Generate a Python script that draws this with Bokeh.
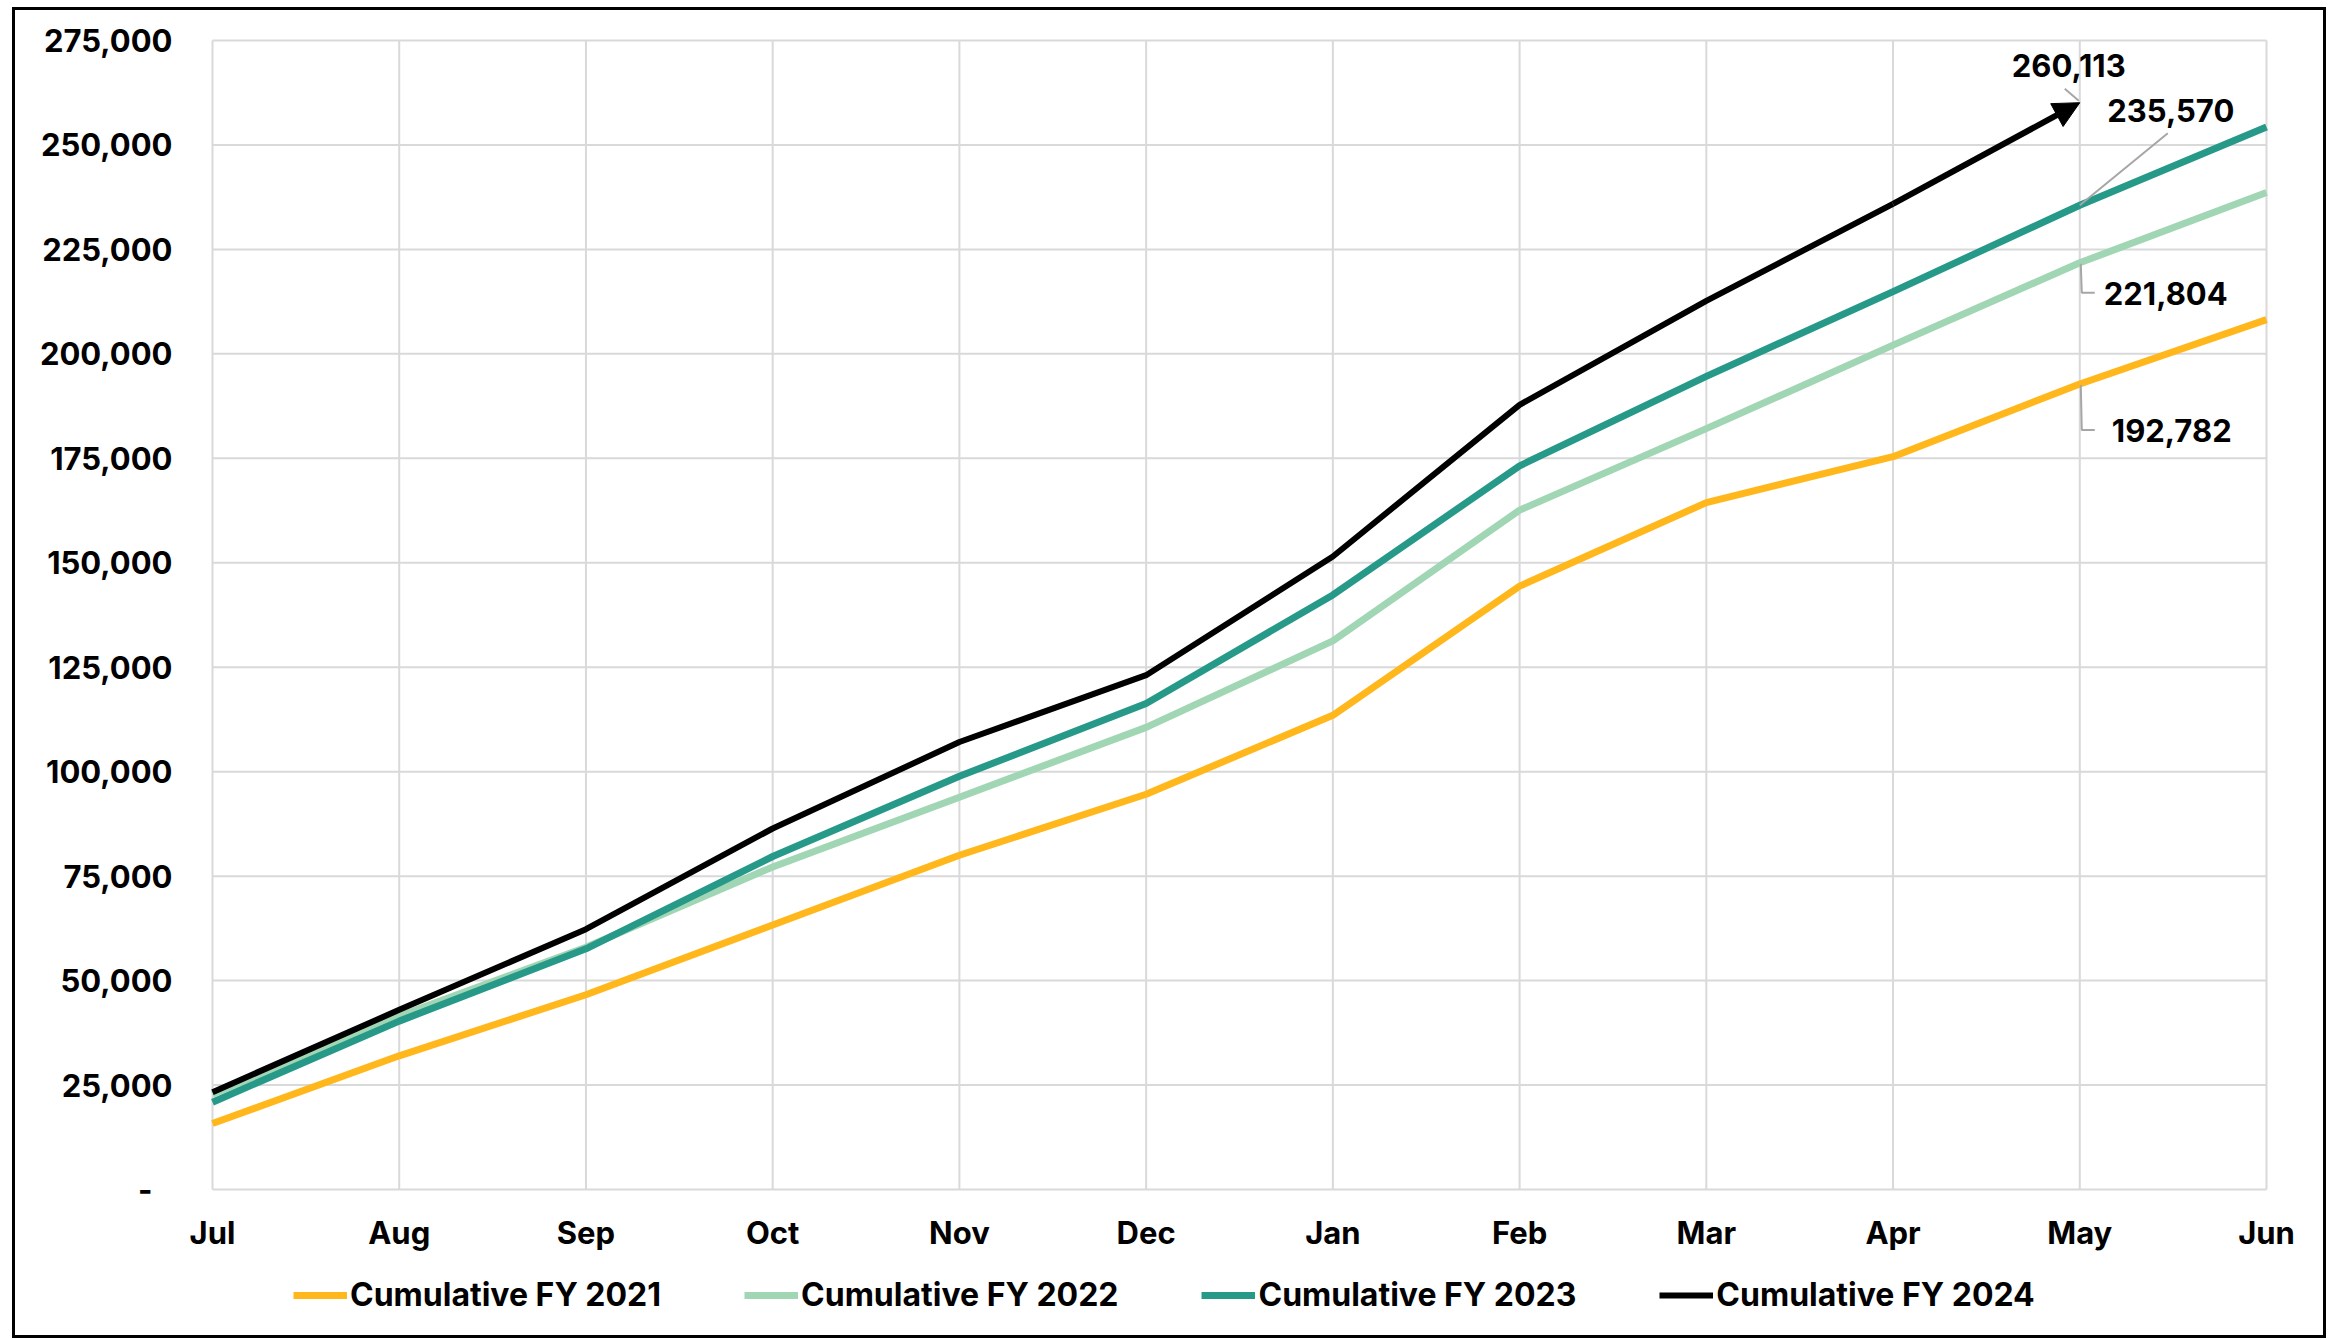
from bokeh.plotting import figure
from bokeh.models import Legend, LegendItem, Arrow, NormalHead, Range1d
from bokeh.core.properties import value
from bokeh.embed import file_html
from bokeh.resources import INLINE

months = ["Jul", "Aug", "Sep", "Oct", "Nov", "Dec", "Jan", "Feb", "Mar", "Apr", "May", "Jun"]
fy2021 = [15800, 32000, 46600, 63300, 80000, 94600, 113500, 144400, 164400, 175400, 192782, 208200]
fy2022 = [22800, 41500, 58000, 77200, 93900, 110600, 131300, 162600, 182100, 202100, 221804, 238600]
fy2023 = [20900, 40300, 57600, 79700, 98900, 116300, 142300, 173200, 194600, 214900, 235570, 254300]
fy2024 = [23300, 43000, 62300, 86400, 107100, 123100, 151500, 187800, 212700, 235900, 260113]
series_names = ["Cumulative FY 2021", "Cumulative FY 2022", "Cumulative FY 2023", "Cumulative FY 2024"]
y_ticks = list(range(0, 275001, 25000))
y_tick_labels = ["-\u2007" if t == 0 else f"{t:,}" for t in y_ticks]

COLORS = ["#FFB71B", "#A0D6B4", "#279989", "#000000"]
GRID = "#D9D9D9"
FONT = "Inter"
FS = "31px"

# geometry (pixels): canvas size and where the value area sits inside it
W, H = 2314, 1331
PAD_L, PAD_R, PAD_T, PAD_B = 197, 63, 30, 152
PLOT_W = W - PAD_L - PAD_R
PLOT_H = H - PAD_T - PAD_B
YMAX = 275000
XMAX = len(months) - 1
UX = XMAX / PLOT_W          # data units per pixel (x)
UY = YMAX / PLOT_H          # data units per pixel (y)

p = figure(width=W, height=H, output_backend="svg", toolbar_location=None,
           x_range=Range1d(-PAD_L * UX, XMAX + PAD_R * UX),
           y_range=Range1d(-PAD_B * UY, YMAX + PAD_T * UY),
           min_border=0, background_fill_color="white", border_fill_color="white")
p.styles = {"border": "3px solid #000000", "margin-left": "12px", "margin-top": "7px"}
p.outline_line_color = None
p.xaxis.visible = False
p.yaxis.visible = False
p.xgrid.visible = False
p.ygrid.visible = False

x_all = list(range(len(months)))
# grid over the value area
p.segment(x0=x_all, y0=[0] * len(x_all), x1=x_all, y1=[YMAX] * len(x_all),
          line_color=GRID, line_width=2)
p.segment(x0=[0] * len(y_ticks), y0=y_ticks, x1=[XMAX] * len(y_ticks), y1=y_ticks,
          line_color=GRID, line_width=2)
# tick labels
p.text(x=x_all, y=[0] * len(x_all), text=months, y_offset=43,
       text_align="center", text_baseline="middle", text_font=value(FONT),
       text_font_style="bold", text_font_size=FS, text_color="#000000")
p.text(x=[0] * len(y_ticks), y=y_ticks, text=y_tick_labels, x_offset=-40,
       text_align="right", text_baseline="middle", text_font=value(FONT),
       text_font_style="bold", text_font_size=FS, text_color="#000000")

r1 = p.line(x_all, fy2021, line_color=COLORS[0], line_width=7, line_join="round")
r2 = p.line(x_all, fy2022, line_color=COLORS[1], line_width=7, line_join="round")
r3 = p.line(x_all, fy2023, line_color=COLORS[2], line_width=7, line_join="round")
x24 = list(range(len(fy2024)))
r4 = p.line(x24[:-1], fy2024[:-1], line_color=COLORS[3], line_width=6, line_join="round")
p.add_layout(Arrow(end=NormalHead(size=26, fill_color="#000000", line_color="#000000"),
                   x_start=x24[-2], y_start=fy2024[-2], x_end=x24[-1], y_end=fy2024[-1],
                   line_color="#000000", line_width=6))

# data labels with leader lines (offsets in screen pixels)
im = months.index("May")
labels = [
    (fy2024[im], f"{fy2024[im]:,}", -11, -37, "center", [(-15, -14), (-1, -2)]),
    (fy2023[im], f"{fy2023[im]:,}", 91, -95, "center", [(88, -72), (0, 0)]),
    (fy2022[im], f"{fy2022[im]:,}", 24, 31, "left", [(1, 1), (2, 30), (15, 30)]),
    (fy2021[im], f"{fy2021[im]:,}", 32, 46, "left", [(1, 1), (2, 46), (15, 46)]),
]
for val, txt, ox, oy, align, pts in labels:
    p.line([im + a * UX for a, b in pts], [val - b * UY for a, b in pts],
           line_color="#A6A6A6", line_width=2)
    p.text(x=[im], y=[val], text=[txt], x_offset=ox, y_offset=oy,
           text_align=align, text_baseline="middle", text_font=value(FONT),
           text_font_style="bold", text_font_size=FS, text_color="#000000")

legend = Legend(items=[LegendItem(label=n, renderers=[r]) for n, r in zip(series_names, [r1, r2, r3, r4])],
                orientation="horizontal", location=(PAD_L + 81, 27),
                glyph_width=54, glyph_height=38, label_height=38, label_standoff=3, spacing=83,
                padding=0, margin=0, border_line_alpha=0, background_fill_alpha=0,
                label_text_font=FONT, label_text_font_style="bold", label_text_font_size="32px",
                label_text_color="#000000")
p.add_layout(legend)

open("out.html", "w").write(file_html(p, INLINE))
